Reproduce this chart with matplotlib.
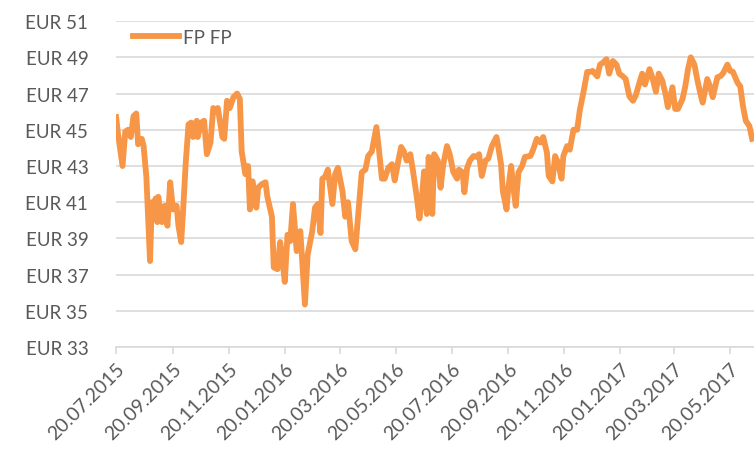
import matplotlib
matplotlib.use("Agg")
import matplotlib.pyplot as plt
import matplotlib.dates as mdates
import pandas as pd

# FP FP share price (EUR)
dates = [
    "2015-07-20", "2015-07-22", "2015-07-27", "2015-07-30", "2015-08-02", "2015-08-05",
    "2015-08-08", "2015-08-11", "2015-08-13", "2015-08-17", "2015-08-19", "2015-08-22",
    "2015-08-24", "2015-08-26", "2015-08-28", "2015-08-29", "2015-09-01", "2015-09-03",
    "2015-09-04", "2015-09-08", "2015-09-11", "2015-09-14", "2015-09-17", "2015-09-20",
    "2015-09-24", "2015-09-26", "2015-09-29", "2015-10-01", "2015-10-04", "2015-10-07",
    "2015-10-10", "2015-10-12", "2015-10-16", "2015-10-17", "2015-10-21", "2015-10-24",
    "2015-10-27", "2015-10-31", "2015-11-03", "2015-11-06", "2015-11-08", "2015-11-13",
    "2015-11-15", "2015-11-18", "2015-11-21", "2015-11-25", "2015-11-29", "2015-12-02",
    "2015-12-04", "2015-12-08", "2015-12-11", "2015-12-13", "2015-12-16", "2015-12-20",
    "2015-12-22", "2015-12-26", "2015-12-30", "2016-01-01", "2016-01-06", "2016-01-08",
    "2016-01-12", "2016-01-15", "2016-01-17", "2016-01-20", "2016-01-23", "2016-01-26",
    "2016-01-29", "2016-02-02", "2016-02-06", "2016-02-08", "2016-02-11", "2016-02-14",
    "2016-02-19", "2016-02-22", "2016-02-25", "2016-02-28", "2016-03-01", "2016-03-04",
    "2016-03-07", "2016-03-12", "2016-03-15", "2016-03-18", "2016-03-23", "2016-03-26",
    "2016-03-29", "2016-04-02", "2016-04-06", "2016-04-09", "2016-04-13", "2016-04-17",
    "2016-04-20", "2016-04-24", "2016-04-29", "2016-05-02", "2016-05-05", "2016-05-08",
    "2016-05-12", "2016-05-16", "2016-05-19", "2016-05-23", "2016-05-26", "2016-05-29",
    "2016-06-01", "2016-06-05", "2016-06-08", "2016-06-12", "2016-06-15", "2016-06-18",
    "2016-06-20", "2016-06-23", "2016-06-25", "2016-06-29", "2016-07-01", "2016-07-05",
    "2016-07-08", "2016-07-11", "2016-07-15", "2016-07-18", "2016-07-22", "2016-07-26",
    "2016-07-28", "2016-08-01", "2016-08-03", "2016-08-06", "2016-08-09", "2016-08-13",
    "2016-08-17", "2016-08-19", "2016-08-22", "2016-08-26", "2016-08-29", "2016-09-02",
    "2016-09-07", "2016-09-09", "2016-09-12", "2016-09-14", "2016-09-18", "2016-09-20",
    "2016-09-23", "2016-09-26", "2016-09-28", "2016-10-01", "2016-10-05", "2016-10-08",
    "2016-10-14", "2016-10-17", "2016-10-21", "2016-10-25", "2016-10-28", "2016-11-01",
    "2016-11-03", "2016-11-07", "2016-11-10", "2016-11-13", "2016-11-17", "2016-11-19",
    "2016-11-23", "2016-11-26", "2016-11-30", "2016-12-04", "2016-12-07", "2016-12-11",
    "2016-12-15", "2016-12-18", "2016-12-21", "2016-12-26", "2016-12-29", "2017-01-01",
    "2017-01-05", "2017-01-08", "2017-01-12", "2017-01-16", "2017-01-19", "2017-01-23",
    "2017-01-26", "2017-01-30", "2017-02-03", "2017-02-06", "2017-02-10", "2017-02-13",
    "2017-02-16", "2017-02-21", "2017-02-24", "2017-02-28", "2017-03-03", "2017-03-07",
    "2017-03-11", "2017-03-13", "2017-03-18", "2017-03-21", "2017-03-24", "2017-03-29",
    "2017-04-01", "2017-04-04", "2017-04-07", "2017-04-11", "2017-04-14", "2017-04-17",
    "2017-04-20", "2017-04-25", "2017-04-28", "2017-05-01", "2017-05-06", "2017-05-09",
    "2017-05-12", "2017-05-17", "2017-05-20", "2017-05-23", "2017-05-28", "2017-05-31",
    "2017-06-03", "2017-06-06", "2017-06-10", "2017-06-13",
]
prices = [
    45.7, 44.8, 43.0, 44.9, 45.0, 44.6,
    45.75, 45.9, 44.2, 44.5, 44.1, 42.4,
    40.1, 37.75, 41.0, 40.1, 41.2, 39.9,
    41.3, 39.9, 40.8, 39.7, 42.1, 40.6,
    40.8, 39.7, 38.8, 40.45, 43.2, 45.3,
    45.4, 44.6, 45.5, 44.6, 45.4, 45.5,
    43.65, 44.3, 46.2, 46.0, 46.2, 44.6,
    44.5, 46.6, 46.2, 46.8, 47.0, 46.7,
    43.8, 42.55, 43.0, 40.6, 42.15, 40.7,
    41.8, 42.0, 42.1, 41.3, 40.2, 37.4,
    37.3, 38.8, 38.0, 36.6, 39.2, 38.85,
    40.9, 38.3, 39.4, 37.75, 35.35, 38.1,
    39.4, 40.7, 40.9, 39.3, 42.3, 42.4,
    42.8, 40.9, 42.55, 42.9, 41.6, 40.2,
    41.0, 38.85, 38.4, 40.2, 42.65, 42.8,
    43.55, 43.8, 45.15, 43.8, 42.3, 42.3,
    42.9, 43.1, 42.2, 43.3, 44.05, 43.8,
    43.3, 43.65, 42.7, 41.3, 40.1, 41.45,
    42.7, 40.35, 43.5, 40.35, 43.65, 43.3,
    41.8, 43.1, 44.1, 43.65, 42.65, 42.3,
    42.8, 42.65, 41.55, 42.9, 43.3, 43.55,
    43.5, 43.65, 42.45, 43.3, 43.4, 44.1,
    44.6, 44.05, 43.1, 41.6, 40.6, 41.8,
    43.0, 41.6, 40.8, 42.65, 43.0, 43.5,
    43.55, 43.9, 44.5, 44.3, 44.6, 43.75,
    42.45, 42.15, 43.55, 43.2, 42.3, 43.55,
    44.1, 43.9, 45.0, 45.0, 46.1, 47.1,
    48.2, 48.2, 48.25, 47.95, 48.6, 48.7,
    48.9, 48.1, 48.8, 48.6, 48.1, 47.95,
    47.8, 46.85, 46.6, 46.9, 47.6, 48.1,
    47.5, 48.35, 47.9, 47.1, 48.1, 47.7,
    46.85, 46.25, 47.35, 46.15, 46.15, 46.7,
    47.4, 48.35, 49.0, 48.6, 47.8, 47.1,
    46.5, 47.8, 47.4, 46.8, 47.9, 47.95,
    48.1, 48.6, 48.25, 48.2, 47.6, 47.4,
    46.3, 45.5, 45.2, 44.5,
]
series_name = "FP FP"
x_start, x_end = "2015-07-20", "2017-06-15"
y_ticks = [33, 35, 37, 39, 41, 43, 45, 47, 49, 51]

LINE_COLOR = "#F79646"
TEXT_COLOR = "#595959"
GRID_COLOR = "#D9D9D9"

plt.rcParams["font.family"] = ["Lato", "DejaVu Sans"]

fig = plt.figure(figsize=(7.54, 4.52), dpi=100)
ax = fig.add_axes([0.154, 0.230, 0.846, 0.721])

ax.plot(pd.to_datetime(dates), prices, color=LINE_COLOR, lw=4.2,
        solid_joinstyle="round", label=series_name)

ax.set_xlim(pd.Timestamp(x_start), pd.Timestamp(x_end))
ax.set_ylim(y_ticks[0], y_ticks[-1])
ax.set_yticks(y_ticks)
ax.set_yticklabels([f"EUR {v}" for v in y_ticks])
ax.yaxis.grid(True, color=GRID_COLOR, lw=1.2)
ax.set_axisbelow(True)

ax.xaxis.set_major_locator(mdates.MonthLocator(bymonth=[1, 3, 5, 7, 9, 11], bymonthday=20))
ax.xaxis.set_major_formatter(mdates.DateFormatter("%d.%m.%Y"))
for lbl in ax.get_xticklabels():
    lbl.set_rotation(45)
    lbl.set_ha("right")
    lbl.set_rotation_mode("anchor")

for side in ["top", "right", "left"]:
    ax.spines[side].set_visible(False)
ax.spines["bottom"].set_color(GRID_COLOR)
ax.spines["bottom"].set_linewidth(1.2)

ax.tick_params(axis="y", length=0, pad=20, labelsize=13.5, labelcolor=TEXT_COLOR)
ax.tick_params(axis="x", length=5, width=1.2, color=GRID_COLOR, pad=4,
               labelsize=14, labelcolor=TEXT_COLOR)

ax.legend(loc="upper left", frameon=False, fontsize=13.5, labelcolor=TEXT_COLOR,
          handlelength=2.5, handletextpad=0.2, borderaxespad=0.0,
          bbox_to_anchor=(0.014, 1.0))

fig.savefig("out.png", dpi=100)
